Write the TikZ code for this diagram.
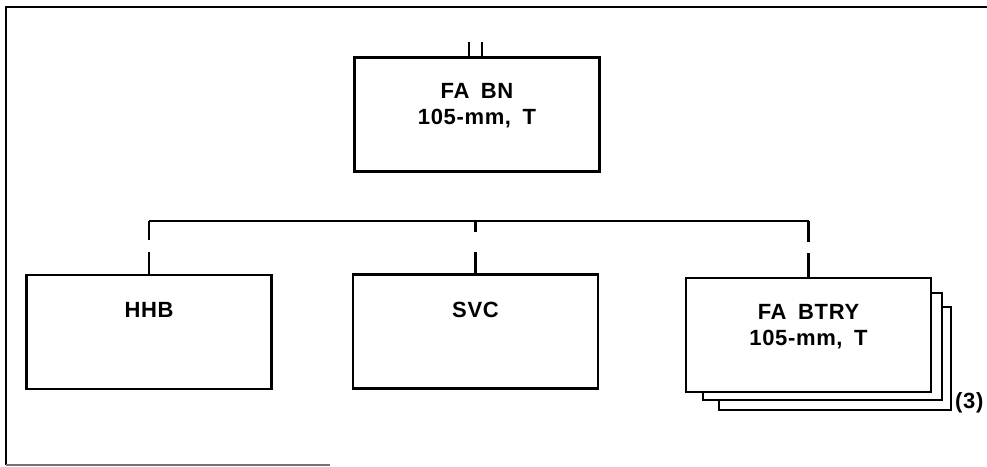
\documentclass[tikz,border=0pt]{standalone}
\usepackage{fontspec}
\setmainfont{Liberation Sans}[LetterSpace=3,WordSpace=1.7]
\usetikzlibrary{calc}
\tikzset{
  box/.style={draw, line width=2.1pt, minimum width=245pt, minimum height=114pt, inner sep=0pt},
  lbl/.style={font=\fontsize{22}{26}\selectfont\bfseries, align=center, inner sep=0pt},
  wire/.style={line width=2.1pt},
  frame/.style={line width=2.1pt}
}
\begin{document}
\begin{tikzpicture}[x=1pt,y=-1pt]
\useasboundingbox (0,0) rectangle (987,466);
% open frame
\draw[frame] (987,7) -- (6,7) -- (6,465);
\draw[frame, black!55] (6,465) -- (330,465);
% boxes
\node[box] (bn) at (477,114.5) {};
\node[box] (hhb) at (149,332) {};
\node[box] (svc) at (475.5,331.5) {};
\node[box] (btry) at (808.5,335) {};
% labels
\node[lbl] (tbn) at (477,106) {FA BN\\105-mm, T};
\node[lbl] (thhb) at (149,310) {HHB};
\node[lbl] (tsvc) at (475.5,310) {SVC};
\node[lbl] (tbtry) at (808.5,327) {FA BTRY\\105-mm, T};
\node[lbl, anchor=west] (three) at (955,403) {(3)};
% stacked copies behind the battery box
\draw[wire] ($(btry.south west)+(18,0)$) -- ++(0,7) -- ($(btry.south east)+(10,7)$)
  -- ($(btry.north east)+(10,16)$) -- ($(btry.north east)+(0,16)$);
\draw[wire] ($(btry.south west)+(34,7)$) -- ++(0,10) -- ($(btry.south east)+(19,17)$)
  -- ($(btry.north east)+(19,30)$) -- ($(btry.north east)+(10,30)$);
% ticks on top of the battalion box
\draw[wire] ($(bn.north)+(-8,0)$) -- ++(0,-14);
\draw[wire] ($(bn.north)+(5,0)$) -- ++(0,-14);
% connectors
\coordinate (bus) at (0,221);
\draw[wire] ($(bn.south)+(-2,0)$) -- ($(bn.south)+(-2,0)$ |- bus);
\draw[wire] (hhb.north |- bus) -- (btry.north |- bus);
\draw[wire] (hhb.north |- bus) -- (hhb.north |- 0,240);
\draw[wire] (hhb.north |- 0,252) -- (hhb.north);
\draw[wire] (svc.north |- bus) -- (svc.north |- 0,232);
\draw[wire] (svc.north |- 0,252) -- (svc.north);
\draw[wire] (btry.north |- bus) -- (btry.north |- 0,242);
\draw[wire] (btry.north |- 0,253) -- (btry.north);
\end{tikzpicture}
\end{document}
